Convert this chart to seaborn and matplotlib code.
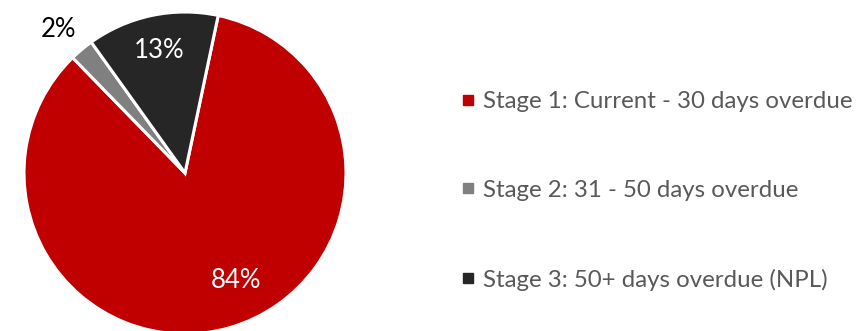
import matplotlib
matplotlib.use("Agg")
import matplotlib.pyplot as plt
import seaborn as sns
import numpy as np
from matplotlib.lines import Line2D

sns.set_theme(style="white")
plt.rcParams['font.family'] = ['Lato', 'DejaVu Sans']

categories = ["Stage 1: Current - 30 days overdue",
              "Stage 2: 31 - 50 days overdue",
              "Stage 3: 50+ days overdue (NPL)"]
values = [84.4, 2.4, 13.2]
colors = ["#C00000", "#808080", "#262626"]
label_colors = ["white", "black", "white"]

W, H = 859, 331
fig = plt.figure(figsize=(W / 100, H / 100), dpi=100)
cx, cy, r = 185, 173, 161
half = r * 1.25
ax = fig.add_axes([(cx - half) / W, (H - cy - half) / H, 2 * half / W, 2 * half / H])

wedges, texts, autotexts = ax.pie(
    values, colors=colors, startangle=78.1, counterclock=False,
    autopct="%.0f%%", pctdistance=0.76,
    wedgeprops=dict(edgecolor="white", linewidth=2.2),
    textprops=dict(fontsize=18.5),
)
ax.set_xlim(-1.25, 1.25)
ax.set_ylim(-1.25, 1.25)

for i, (w, t) in enumerate(zip(wedges, autotexts)):
    t.set_color(label_colors[i])
    mid = np.deg2rad((w.theta1 + w.theta2) / 2)
    if i == 1:
        d = 1.19
        mid = np.deg2rad((w.theta1 + w.theta2) / 2 + 1.5)
    elif i == 0:
        d = 0.74
        mid = mid + np.deg2rad(9)
    else:
        d = 0.78
    t.set_position((d * np.cos(mid), d * np.sin(mid)))

handles = [Line2D([0], [0], marker="s", linestyle="none", markersize=7.2,
                  markerfacecolor=c, markeredgecolor=c) for c in colors]
leg = fig.legend(handles, categories, loc="upper left",
                 bbox_to_anchor=(461 / W, 1 - 91 / H), frameon=False,
                 fontsize=17.3, labelspacing=2.82, handlelength=0.6,
                 handletextpad=0.32, borderpad=0, borderaxespad=0)
for t in leg.get_texts():
    t.set_color("#595959")

fig.savefig("out.png", dpi=100)
